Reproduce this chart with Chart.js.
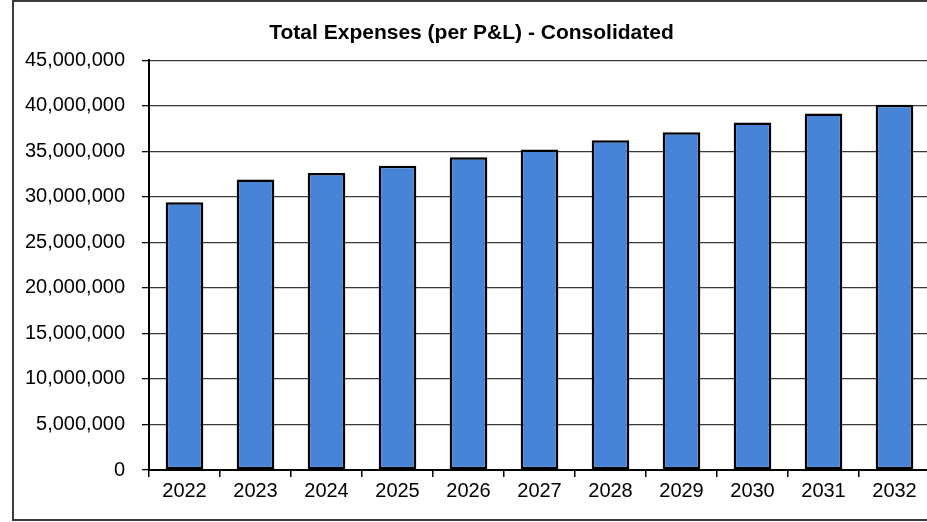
<!DOCTYPE html>
<html lang="en">
<head>
    <meta charset="UTF-8">
    <title>Total Expenses (per P&amp;L) - Consolidated</title>
    <script src="https://cdn.jsdelivr.net/npm/chart.js"></script>
    <style>
        html, body { margin: 0; padding: 0; background: #ffffff; overflow: hidden; }
        #wrap { position: relative; width: 927px; height: 522px; overflow: hidden; }
        #frame {
            position: absolute; left: 12px; top: 0px; width: 930px; height: 521px;
            border: 2px solid #3c3c3c; box-sizing: border-box; pointer-events: none;
        }
        #holder { position: absolute; left: 0; top: 0; width: 935px; height: 522px; }
    </style>
</head>
<body>
<div id="wrap">
    <div id="holder"><canvas id="expensesChart" width="935" height="522"></canvas></div>
    <div id="frame"></div>
</div>
<script>
    const years = ['2022', '2023', '2024', '2025', '2026', '2027', '2028', '2029', '2030', '2031', '2032'];
    const totalExpenses = [29400000, 31900000, 32600000, 33400000, 34350000, 35200000, 36200000, 37100000, 38150000, 39150000, 40100000];
    const yTicks = [0, 5000000, 10000000, 15000000, 20000000, 25000000, 30000000, 35000000, 40000000, 45000000];

    const fontFamily = "'Liberation Sans', Arial, sans-serif";

    const ctx = document.getElementById('expensesChart').getContext('2d');
    new Chart(ctx, {
        type: 'bar',
        data: {
            labels: years,
            datasets: [{
                label: 'Total Expenses',
                data: totalExpenses,
                backgroundColor: '#4784d8',
                borderColor: '#000000',
                borderWidth: 2.5,
                borderSkipped: false,
                categoryPercentage: 1.0,
                barPercentage: 0.53
            }]
        },
        options: {
            responsive: false,
            animation: false,
            devicePixelRatio: 1,
            layout: { padding: { left: 13, right: 5, top: 0, bottom: 2 } },
            plugins: {
                legend: { display: false },
                tooltip: { enabled: false },
                title: {
                    display: true,
                    text: 'Total Expenses (per P&L) - Consolidated',
                    color: '#000000',
                    font: { family: fontFamily, size: 21, weight: 'bold' },
                    padding: { top: 21, bottom: 14 }
                }
            },
            scales: {
                x: {
                    grid: {
                        drawOnChartArea: false,
                        drawTicks: true,
                        tickLength: 7,
                        color: '#000000',
                        lineWidth: 1.5
                    },
                    border: { display: true, color: '#000000', width: 2 },
                    ticks: {
                        color: '#000000',
                        font: { family: fontFamily, size: 20 },
                        padding: 2,
                        maxRotation: 0
                    },
                    afterFit: (scale) => { scale.height = 50; }
                },
                y: {
                    min: 0,
                    max: 45000000,
                    afterBuildTicks: (scale) => {
                        scale.ticks = yTicks.map(v => ({ value: v }));
                    },
                    grid: {
                        color: '#3a3a3a',
                        lineWidth: 1.3,
                        tickLength: 7,
                        tickColor: '#000000'
                    },
                    border: { display: true, color: '#000000', width: 2 },
                    ticks: {
                        color: '#000000',
                        font: { family: fontFamily, size: 20 },
                        padding: 17,
                        callback: (v) => Number(v).toLocaleString('en-US')
                    },
                    afterFit: (scale) => { scale.width = 136; }
                }
            }
        }
    });
</script>
</body>
</html>
